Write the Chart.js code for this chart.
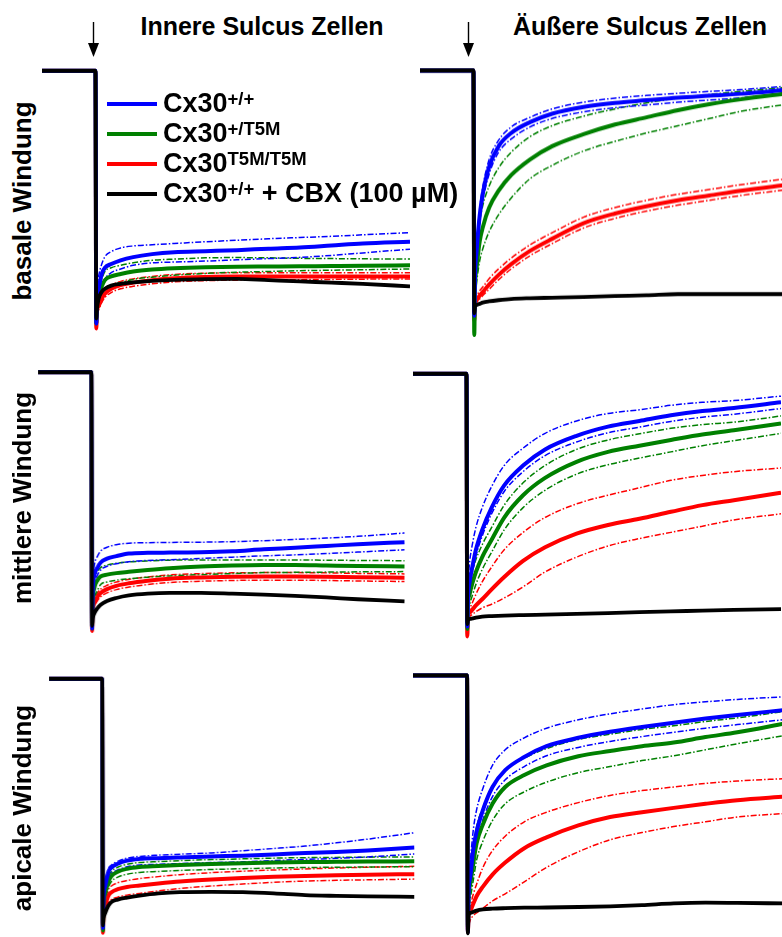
<!DOCTYPE html>
<html lang="de">
<head>
<meta charset="utf-8">
<script src="https://cdn.jsdelivr.net/npm/chart.js@4.4.1/dist/chart.umd.min.js"></script>
<style>
  html, body { margin: 0; padding: 0; background: #fff; }
  #fig { position: relative; width: 782px; height: 937px; overflow: hidden; background: #fff;
         font-family: "Liberation Sans", Arial, sans-serif; font-weight: bold; color: #000; }
  .panel { position: absolute; }
  .title { position: absolute; top: 14px; font-size: 25px; line-height: 25px; white-space: nowrap; transform: translateX(-50%); }
  .row { position: absolute; font-size: 26px; line-height: 26px; white-space: nowrap; transform: translate(-50%, -50%) rotate(-90deg); }
  .legend { position: absolute; left: 107px; top: 90px; }
  .legend div { position: relative; height: 30px; font-size: 27px; line-height: 27px; white-space: nowrap; padding-left: 56px; }
  .legend i { position: absolute; left: 0; top: 12px; width: 50px; height: 4px; }
  .legend sup { font-size: 18.5px; vertical-align: baseline; position: relative; top: -7px; }
</style>
</head>
<body>
<div id="fig">
  <div class="panel" id="p0"><canvas id="c0"></canvas></div>
  <div class="panel" id="p1"><canvas id="c1"></canvas></div>
  <div class="panel" id="p2"><canvas id="c2"></canvas></div>
  <div class="panel" id="p3"><canvas id="c3"></canvas></div>
  <div class="panel" id="p4"><canvas id="c4"></canvas></div>
  <div class="panel" id="p5"><canvas id="c5"></canvas></div>

  <div class="title" style="left:262px">Innere Sulcus Zellen</div>
  <div class="title" style="left:640px">Äußere Sulcus Zellen</div>

  <div class="row" style="left:22px; top:201px">basale Windung</div>
  <div class="row" style="left:22px; top:498px">mittlere Windung</div>
  <div class="row" style="left:22px; top:808px">apicale Windung</div>

  <svg width="782" height="937" style="position:absolute; left:0; top:0; pointer-events:none">
    <line x1="93.5" y1="22" x2="93.5" y2="46" stroke="#000" stroke-width="1.4"/>
    <polygon points="88,43 99,43 93.5,57" fill="#000"/>
    <line x1="468.5" y1="22" x2="468.5" y2="46" stroke="#000" stroke-width="1.4"/>
    <polygon points="463,43 474,43 468.5,57" fill="#000"/>
  </svg>

  <div class="legend">
    <div><i style="background:#0000ff"></i>Cx30<sup>+/+</sup></div>
    <div><i style="background:#008000"></i>Cx30<sup>+/T5M</sup></div>
    <div><i style="background:#ff0000"></i>Cx30<sup>T5M/T5M</sup></div>
    <div><i style="background:#000"></i>Cx30<sup>+/+</sup> + CBX (100 µM)</div>
  </div>
</div>

<script>
// time after the step (arbitrary units), baseline runs from -17 to 0
const baselineTime = [-17, 0];
const dipTime = 0.25;
const baselineLevel = 100;
const time = [0.5, 1, 2, 3, 5, 8, 12, 18, 25, 35, 45, 55, 65, 75, 85, 100];

// dip at the step: blue, green, red, black
const innerBasalDip = [-2, -2, -4, 0];
const outerBasalDip = [-2, -10, -4, -1];
const innerMiddleDip = [-1, -1, -2, 0];
const outerMiddleDip = [-2, -3, -6, -1];
const innerApicalDip = [-1, -2, -3, 0];
const outerApicalDip = [-7, -5, -7, -7.5];

// Innere Sulcus Zellen, basale Windung
const innerBasalBlue    = [8, 12, 18, 20.5, 22, 23.5, 24.8, 26, 26.8, 27.2, 27.6, 28.2, 28.7, 29.5, 30.3, 31];
const innerBasalBlueUp  = [12, 17, 22, 25, 27, 28.5, 29.3, 29.8, 30.3, 31, 31.6, 32.2, 32.7, 33.2, 33.8, 34.7];
const innerBasalBlueLo  = [5, 8, 13, 16, 18.5, 20, 21.5, 22.5, 22.8, 23.2, 23.7, 24.2, 24.7, 25.5, 26.5, 28];
const innerBasalGreen   = [6, 9, 13, 15.5, 17, 18, 19, 19.8, 20.3, 20.7, 20.9, 21, 21.1, 21.2, 21.3, 21.5];
const innerBasalGreenUp = [8, 12, 16, 19, 20.5, 21.5, 22.5, 23.5, 24, 24.5, 24.6, 24.5, 24.3, 24.2, 24.1, 24];
const innerBasalGreenLo = [4, 6, 9, 12, 13.5, 14.5, 15.8, 16.7, 17.5, 18.2, 18.7, 19, 19.3, 19.5, 19.7, 20];
const innerBasalRed     = [3, 5, 8, 10, 12, 13.5, 14.5, 15.5, 16.3, 16.8, 17, 17, 17, 17, 17, 17];
const innerBasalRedUp   = [4.5, 6.5, 9.5, 11.5, 13.5, 15, 16, 17, 17.8, 18.3, 18.5, 18.5, 18.5, 18.5, 18.5, 18.5];
const innerBasalRedLo   = [1.5, 3.5, 6.5, 8.5, 10.5, 12, 13, 14, 14.8, 15.3, 15.5, 15.6, 15.7, 15.8, 15.9, 16];
const innerBasalBlack   = [4, 8, 10.8, 12, 13.3, 14, 14.6, 15.2, 15.6, 15.9, 16, 15.5, 15, 14.5, 14, 13];

// Äußere Sulcus Zellen, basale Windung
const outerBasalBlue    = [15, 25, 40, 49, 60, 68.5, 74, 78.5, 82, 84.8, 86.5, 87.6, 88.7, 89.5, 90.3, 92];
const outerBasalBlueUp  = [18, 28, 43, 52, 63, 71, 76.5, 80.5, 84, 86.8, 88.5, 89.6, 90.5, 91.3, 92, 93.5];
const outerBasalBlueLo  = [12, 22, 37, 46, 57, 66, 71.5, 76.5, 80, 82.8, 84.5, 85.6, 86.8, 87.7, 88.6, 90.5];
const outerBasalGreen   = [10, 18, 29, 35, 43, 50, 56.5, 63, 68.5, 73.5, 77.5, 80.5, 83.5, 86, 88, 90.5];
const outerBasalGreenUp = [14, 24, 37, 44, 52, 59.5, 66, 72.5, 77, 81, 84, 86.5, 88.5, 90, 91.3, 93];
const outerBasalGreenLo = [6, 12, 21, 26, 33, 40, 47, 55, 60.5, 66.5, 70.5, 74, 77, 80, 83, 86];
const outerBasalRed     = [3, 4.5, 6.5, 8, 11, 15, 19.5, 25, 30, 36.5, 40.5, 43.5, 46, 48, 50, 52.5];
const outerBasalRedUp   = [4, 6, 8.5, 10, 13.5, 17.5, 22, 27.5, 32.5, 39, 43, 46, 48.5, 50.5, 52.5, 55];
const outerBasalRedLo   = [2, 3.5, 5, 6.5, 9, 13, 17.5, 23, 28, 34.5, 38.5, 41.5, 44, 46, 48, 50.5];
const outerBasalBlack   = [2, 2.5, 3, 3.5, 4, 4.5, 5, 5.3, 5.5, 5.8, 6.2, 6.5, 7, 7, 7, 7];

// Innere Sulcus Zellen, mittlere Windung
const innerMiddleBlue    = [14, 20, 23, 25, 26.5, 27.5, 28.5, 28.8, 28.9, 29, 29.4, 30.2, 30.8, 31.5, 32.2, 33];
const innerMiddleBlueUp  = [18, 24, 27.5, 29.5, 31, 32, 32.6, 32.8, 32.9, 33, 33.2, 33.6, 34.1, 34.6, 35.3, 36.6];
const innerMiddleBlueLo  = [10, 16, 20, 22, 23.5, 24.5, 25.3, 25.8, 26.1, 26.6, 27.1, 27.6, 28, 28.5, 29.1, 30];
const innerMiddleGreen   = [10, 15, 18, 19.5, 20.2, 20.8, 21.3, 22, 22.7, 23.4, 23.8, 24, 24, 23.8, 23.6, 23.4];
const innerMiddleGreenUp = [13, 18, 21.5, 23, 24, 24.7, 25.2, 25.6, 25.9, 26, 26, 26, 26, 25.9, 25.8, 25.7];
const innerMiddleGreenLo = [7, 11, 14, 16.3, 17.3, 18, 18.6, 19.2, 19.7, 20.2, 20.6, 21, 21.1, 21.2, 21.3, 21.4];
const innerMiddleRed     = [6, 9, 11.5, 13, 14.5, 15.8, 16.8, 17.8, 18.6, 19.1, 19.4, 19.5, 19.5, 19.4, 19.2, 19];
const innerMiddleRedUp   = [7.5, 10.5, 13, 14.5, 16, 17.3, 18.3, 19.3, 20.1, 20.6, 20.9, 21, 21, 20.9, 20.7, 20.5];
const innerMiddleRedLo   = [4.5, 7.5, 10, 11.5, 13, 14.3, 15.3, 16.3, 17.1, 17.6, 17.9, 18, 18, 17.9, 17.7, 17.5];
const innerMiddleBlack   = [3, 5, 7, 8.3, 9.8, 11, 12, 12.7, 13, 13, 12.7, 12.3, 11.8, 11.2, 10.5, 9.7];

// Äußere Sulcus Zellen, mittlere Windung
const outerMiddleBlue    = [10, 16, 23, 29, 37, 46, 55, 63, 69.5, 75, 78.7, 81, 83.3, 85, 86.2, 88.5];
const outerMiddleBlueUp  = [16, 24, 32, 38, 46, 54.5, 63, 70, 76, 81, 84, 85.5, 87.3, 88.5, 89.2, 91];
const outerMiddleBlueLo  = [7.5, 13.5, 20.5, 26.5, 34.5, 43.5, 52.5, 60.5, 67, 72.5, 76.2, 78.5, 80.8, 82.5, 83.7, 86];
const outerMiddleGreen   = [7, 11, 16, 20, 26, 33, 42, 51, 58, 64.5, 68.5, 71, 73.3, 75.5, 77.2, 80];
const outerMiddleGreenUp = [10, 15, 21, 25, 31, 38, 47, 56, 63, 69.5, 73.3, 75.8, 78, 79.5, 80.5, 83];
const outerMiddleGreenLo = [4, 7, 11, 15, 21, 28, 37, 46, 53, 59.5, 63.3, 66, 68.5, 71, 73, 76];
const outerMiddleRed     = [2, 3.5, 5, 6.5, 9, 13, 18, 24.5, 30, 35.5, 39, 41.5, 44.3, 47, 49, 52];
const outerMiddleRedUp   = [3, 5, 8, 11, 16, 22, 29, 36, 42, 47.5, 51, 54, 57, 59, 60.5, 62];
const outerMiddleRedLo   = [1, 2, 3, 4, 5.5, 7, 9.5, 14, 20, 26, 30.5, 33.5, 36, 38.5, 41, 43.5];
const outerMiddleBlack   = [0.5, 1, 1.3, 1.6, 2, 2.2, 2.4, 2.6, 2.8, 3.1, 3.4, 3.8, 4.1, 4.4, 4.7, 5];

// Innere Sulcus Zellen, apicale Windung
const innerApicalBlue    = [12, 16, 21.6, 23.5, 25, 26.3, 27, 27.3, 27.6, 28, 28.3, 28.8, 29.4, 29.8, 30.4, 31.6];
const innerApicalBlueUp  = [14, 18, 23, 24.5, 26, 27.3, 28, 28.5, 28.9, 29.4, 30.3, 31.2, 32.2, 33.5, 35, 37.6];
const innerApicalBlueLo  = [9, 13, 18.8, 21, 22.5, 23.8, 24.5, 24.8, 25.1, 25.5, 25.8, 26.3, 26.8, 27.2, 27.8, 29];
const innerApicalGreen   = [9, 13, 17.6, 20, 21.8, 23, 23.7, 24.1, 24.5, 24.9, 25.2, 25.5, 25.7, 25.8, 25.9, 26];
const innerApicalGreenUp = [10.8, 14.8, 19.4, 21.8, 23.6, 24.8, 25.5, 25.9, 26.3, 26.7, 27, 27.3, 27.5, 27.6, 27.7, 27.8];
const innerApicalGreenLo = [6.8, 10.8, 15.4, 17.8, 19.6, 20.8, 21.5, 21.9, 22.3, 22.7, 23, 23.3, 23.5, 23.6, 23.7, 23.8];
const innerApicalRed     = [5, 8, 12, 13.5, 14.7, 15.6, 16.2, 17, 17.8, 18.6, 19.2, 19.7, 20.1, 20.4, 20.6, 20.8];
const innerApicalRedUp   = [7, 10, 14.5, 16, 17.3, 18.2, 19, 19.8, 20.6, 21.4, 22, 22.5, 22.9, 23.3, 23.6, 24];
const innerApicalRedLo   = [3, 5.5, 9, 10.5, 11.5, 12.3, 13, 14, 15, 16, 16.8, 17.5, 18, 18.3, 18.5, 18.8];
const innerApicalBlack   = [3, 5, 8, 9.5, 10.5, 11.3, 12.1, 13, 13.5, 13.6, 13.5, 13, 12.3, 12, 11.8, 11.6];

// Äußere Sulcus Zellen, apicale Windung
const outerApicalBlue    = [10, 16, 28, 35, 44, 53.5, 60.5, 66, 70.5, 74, 76.5, 78.5, 80.3, 82, 83.5, 85.6];
const outerApicalBlueUp  = [14, 22, 36, 44, 53, 62.5, 69, 74, 78, 81.5, 84, 86, 87.8, 89, 90, 91.1];
const outerApicalBlueLo  = [6, 12, 24, 31, 40, 49.5, 56.5, 62, 66.5, 70, 72.5, 74.5, 76.3, 78, 79.5, 81.6];
const outerApicalGreen   = [8, 13, 22, 30, 38, 46.5, 53.5, 58.5, 62.5, 66.3, 68.5, 70.5, 72, 74.3, 76.3, 80];
const outerApicalGreenUp = [12, 19, 29, 37, 45, 53.5, 60.5, 65.5, 69.5, 73.3, 75.5, 77.5, 79, 80.8, 82.3, 85];
const outerApicalGreenLo = [4, 7, 15, 23, 31, 39.5, 46.5, 51.5, 55.5, 59.5, 62, 64.5, 66.5, 69, 71.5, 75];
const outerApicalRed     = [1, 2, 5, 8, 12, 17, 22, 28, 32.5, 37.5, 41, 43, 44.8, 46.5, 48, 49.5];
const outerApicalRedUp   = [2, 4, 9, 13, 20, 27, 33, 39, 43, 47, 50, 52, 53.5, 55, 56, 57];
const outerApicalRedLo   = [-4, -2, 0, 1, 3, 6, 9, 14, 20, 26.5, 31.5, 34.5, 37, 39, 41, 42.5];
const outerApicalBlack   = [0.5, 1, 1.5, 2, 2.5, 2.8, 3, 3.2, 3.3, 3.5, 3.8, 4.3, 5, 5.3, 5.2, 5];

// where each panel sits on the page (px): step, end of trace, baseline, trough
const layouts = [
  { drop: 94, end: 412, base: 69, trough: 320 },
  { drop: 472, end: 790, base: 69, trough: 312 },
  { drop: 90, end: 406, base: 370, trough: 627 },
  { drop: 465, end: 783, base: 372, trough: 623 },
  { drop: 101, end: 416, base: 677, trough: 927 },
  { drop: 467, end: 785, base: 675, trough: 915 }
];

const panels = [
  [innerBasalBlue, innerBasalBlueUp, innerBasalBlueLo, innerBasalGreen, innerBasalGreenUp, innerBasalGreenLo,
   innerBasalRed, innerBasalRedUp, innerBasalRedLo, innerBasalBlack, innerBasalDip],
  [outerBasalBlue, outerBasalBlueUp, outerBasalBlueLo, outerBasalGreen, outerBasalGreenUp, outerBasalGreenLo,
   outerBasalRed, outerBasalRedUp, outerBasalRedLo, outerBasalBlack, outerBasalDip],
  [innerMiddleBlue, innerMiddleBlueUp, innerMiddleBlueLo, innerMiddleGreen, innerMiddleGreenUp, innerMiddleGreenLo,
   innerMiddleRed, innerMiddleRedUp, innerMiddleRedLo, innerMiddleBlack, innerMiddleDip],
  [outerMiddleBlue, outerMiddleBlueUp, outerMiddleBlueLo, outerMiddleGreen, outerMiddleGreenUp, outerMiddleGreenLo,
   outerMiddleRed, outerMiddleRedUp, outerMiddleRedLo, outerMiddleBlack, outerMiddleDip],
  [innerApicalBlue, innerApicalBlueUp, innerApicalBlueLo, innerApicalGreen, innerApicalGreenUp, innerApicalGreenLo,
   innerApicalRed, innerApicalRedUp, innerApicalRedLo, innerApicalBlack, innerApicalDip],
  [outerApicalBlue, outerApicalBlueUp, outerApicalBlueLo, outerApicalGreen, outerApicalGreenUp, outerApicalGreenLo,
   outerApicalRed, outerApicalRedUp, outerApicalRedLo, outerApicalBlack, outerApicalDip]
];

const BLUE = '#0000ff', GREEN = '#008000', RED = '#ff0000', BLACK = '#000000';
const X_MIN = -17, X_MAX = 100, Y_MIN = -14, Y_MAX = 106;

function trace(values, dip) {
  const pts = baselineTime.map(t => ({ x: t, y: baselineLevel }));
  pts.push({ x: dipTime, y: dip });
  time.forEach((t, i) => pts.push({ x: t, y: values[i] }));
  return pts;
}
function band(values) {
  return time.map((t, i) => ({ x: t, y: values[i] }));
}
function meanSet(values, dip, color, order, width) {
  return { data: trace(values, dip), borderColor: color, borderWidth: width, order: order };
}
function bandSet(values, color) {
  return { data: band(values), borderColor: color, borderWidth: 1.5, borderDash: [6, 2, 1.5, 2], order: 5 };
}

panels.forEach((p, k) => {
  const box = layouts[k];
  const ppx = (box.end - box.drop) / X_MAX;
  const ppy = (box.trough - box.base) / baselineLevel;
  const wrap = document.getElementById('p' + k);
  wrap.style.left = (box.drop + X_MIN * ppx) + 'px';
  wrap.style.width = ((X_MAX - X_MIN) * ppx) + 'px';
  wrap.style.top = (box.base - (Y_MAX - baselineLevel) * ppy) + 'px';
  wrap.style.height = ((Y_MAX - Y_MIN) * ppy) + 'px';

  const [b, bU, bL, g, gU, gL, r, rU, rL, k0, dip] = p;
  new Chart(document.getElementById('c' + k), {
    type: 'line',
    data: {
      datasets: [
        bandSet(bU, BLUE), bandSet(bL, BLUE),
        bandSet(gU, GREEN), bandSet(gL, GREEN),
        bandSet(rU, RED), bandSet(rL, RED),
        meanSet(r, dip[2], RED, 3, 4),
        meanSet(g, dip[1], GREEN, 2, 4),
        meanSet(b, dip[0], BLUE, 1, 4),
        meanSet(k0, dip[3], BLACK, 0, 3.8)
      ]
    },
    options: {
      responsive: true,
      maintainAspectRatio: false,
      animation: false,
      devicePixelRatio: 1,
      layout: { padding: 0 },
      elements: {
        point: { radius: 0 },
        line: { cubicInterpolationMode: 'monotone', fill: false }
      },
      scales: {
        x: { type: 'linear', min: X_MIN, max: X_MAX, display: false },
        y: { type: 'linear', min: Y_MIN, max: Y_MAX, display: false }
      },
      plugins: { legend: { display: false }, tooltip: { enabled: false } }
    }
  });
});
</script>
</body>
</html>
